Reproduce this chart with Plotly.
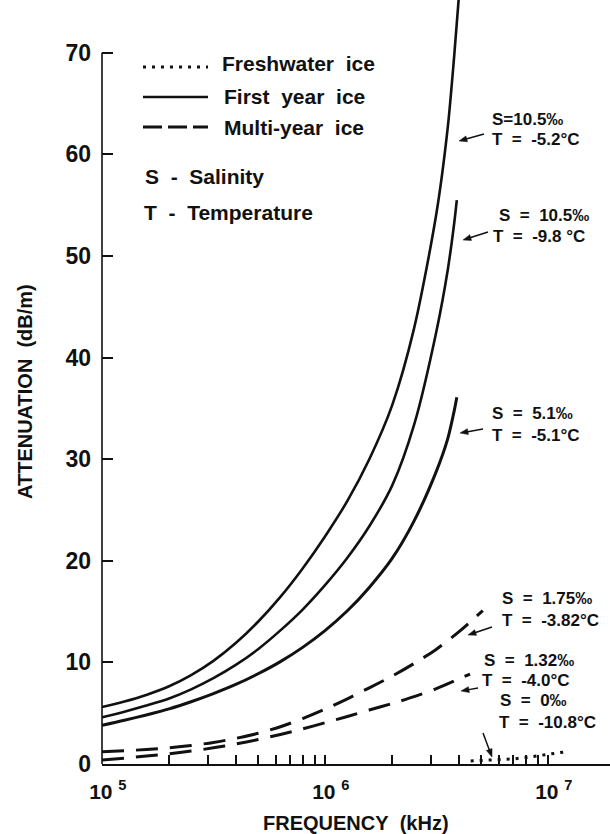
import math
import plotly.graph_objects as go

FONT = "Liberation Sans, Arial, Helvetica, sans-serif"
INK = "#111111"

# ---------------- data ----------------
# First year ice (solid)
freq_fy_a = [1e5, 1.26e5, 1.58e5, 2.0e5, 2.51e5, 3.16e5, 3.98e5, 5.01e5, 6.31e5, 7.94e5, 1e6,
             1.26e6, 1.58e6, 2.0e6, 2.51e6, 3.16e6, 3.55e6, 3.8e6, 4.0e6]
att_fy_a = [5.6, 6.15, 6.8, 7.65, 8.75, 10.15, 11.9, 14.0, 16.45, 19.25, 22.4,
            25.9, 30.0, 35.3, 42.9, 54.2, 62.6, 69.8, 76.0]                      # S=10.5, T=-5.2

freq_fy_b = [1e5, 1.26e5, 1.58e5, 2.0e5, 2.51e5, 3.16e5, 3.98e5, 5.01e5, 6.31e5, 7.94e5, 1e6,
             1.26e6, 1.58e6, 2.0e6, 2.51e6, 3.16e6, 3.55e6, 3.8e6, 3.9e6]
att_fy_b = [4.6, 5.15, 5.75, 6.45, 7.35, 8.45, 9.75, 11.3, 13.15, 15.2, 17.6,
            20.3, 23.4, 27.4, 33.4, 42.6, 48.6, 53.3, 55.5]                       # S=10.5, T=-9.8

freq_fy_c = [1e5, 1.26e5, 1.58e5, 2.0e5, 2.51e5, 3.16e5, 3.98e5, 5.01e5, 6.31e5, 7.94e5, 1e6,
             1.26e6, 1.58e6, 2.0e6, 2.51e6, 3.16e6, 3.55e6, 3.8e6, 3.9e6]
att_fy_c = [3.8, 4.3, 4.83, 5.43, 6.13, 6.93, 7.83, 8.88, 10.08, 11.48, 13.13,
            15.08, 17.38, 20.23, 23.93, 28.83, 32.0, 34.8, 36.1]                  # S=5.1, T=-5.1

# Multi-year ice (dashed)
freq_my_d = [1e5, 1.26e5, 1.58e5, 2.0e5, 2.51e5, 3.16e5, 3.98e5, 5.01e5, 6.31e5, 7.94e5, 1e6,
             1.26e6, 1.58e6, 2.0e6, 2.51e6, 3.16e6, 3.98e6, 5.1e6]
att_my_d = [1.2, 1.3, 1.43, 1.6, 1.82, 2.12, 2.52, 3.02, 3.67, 4.47, 5.4,
            6.42, 7.5, 8.65, 9.9, 11.3, 13.0, 15.1]                               # S=1.75, T=-3.82

freq_my_e = [1e5, 1.26e5, 1.58e5, 2.0e5, 2.51e5, 3.16e5, 3.98e5, 5.01e5, 6.31e5, 7.94e5, 1e6,
             1.26e6, 1.58e6, 2.0e6, 2.51e6, 3.16e6, 3.98e6, 4.47e6]
att_my_e = [0.4, 0.58, 0.78, 1.0, 1.27, 1.59, 1.97, 2.41, 2.91, 3.46, 4.06,
            4.68, 5.31, 5.95, 6.63, 7.41, 8.36, 8.85]                             # S=1.32, T=-4.0

# Freshwater ice (dotted)
freq_fw = [4.5e6, 5e6, 6e6, 7e6, 8e6, 9e6, 1e7, 1.1e7, 1.2e7]
att_fw = [0.3, 0.35, 0.42, 0.5, 0.65, 0.82, 0.95, 1.1, 1.2]                     # S=0, T=-10.8

y_ticks = [0, 10, 20, 30, 40, 50, 60, 70]
x_major = [1e5, 1e6, 1e7]
x_ticktext = ["\u00a0\u00a010\u00a0<sup>5</sup>", "\u00a0\u00a010\u00a0<sup>6</sup>", "\u00a0\u00a010\u00a0<sup>7</sup>"]
x_minor = [k * 10 ** e for e in (5, 6) for k in range(2, 10)]

NB = "\u00a0"
EQ = NB * 2 + "=" + NB * 2
labels = [
    ("S=10.5\u2030", "T" + EQ + "-5.2\u00b0C"),
    ("S" + EQ + "10.5\u2030", "T" + EQ + "-9.8" + NB + "\u00b0C"),
    ("S" + EQ + "5.1\u2030", "T" + EQ + "-5.1\u00b0C"),
    ("S" + EQ + "1.75\u2030", "T" + EQ + "-3.82\u00b0C"),
    ("S" + EQ + "1.32\u2030", "T" + EQ + "-4.0\u00b0C"),
    ("S" + EQ + "0\u2030", "T" + EQ + "-10.8\u00b0C"),
]

# ---------------- layout geometry ----------------
W, H = 610, 834
L, R, T, B = 102, 0, 0, 70
PW, PH = W - L - R, H - T - B


def px(x, y):
    """pixel position -> paper coords"""
    return (x - L) / PW, (H - B - y) / PH


fig = go.Figure()

solid = dict(color=INK, width=2.6, shape="spline", smoothing=0.8)
fig.add_trace(go.Scatter(x=freq_fy_a, y=att_fy_a, mode="lines", line=solid, showlegend=False))
fig.add_trace(go.Scatter(x=freq_fy_b, y=att_fy_b, mode="lines", line=solid, showlegend=False))
fig.add_trace(go.Scatter(x=freq_fy_c, y=att_fy_c, mode="lines", line=dict(solid, width=3), showlegend=False))
dashed = dict(color=INK, width=3, dash="22px,12px", shape="spline", smoothing=0.8)
fig.add_trace(go.Scatter(x=freq_my_d, y=att_my_d, mode="lines", line=dashed, showlegend=False))
fig.add_trace(go.Scatter(x=freq_my_e, y=att_my_e, mode="lines", line=dashed, showlegend=False))
fig.add_trace(go.Scatter(x=freq_fw, y=att_fw, mode="lines",
                         line=dict(color=INK, width=3, dash="3px,6px"), showlegend=False))

shapes = []
# y axis line up to 70 only
shapes.append(dict(type="line", xref="paper", yref="y", x0=0, x1=0, y0=0, y1=70,
                   line=dict(color=INK, width=1.6)))

annotations = []
bold = lambda s: dict(family=FONT, size=s, color=INK, weight="bold")

# manual legend
leg = [
    (67, dict(color=INK, width=3, dash="3px,6px"), "Freshwater" + NB * 2 + "ice", 220, 64),
    (97, dict(color=INK, width=2.6), "First" + NB * 2 + "year" + NB * 2 + "ice", 222, 96),
    (127, dict(color=INK, width=3, dash="19px,6px"), "Multi-year" + NB * 2 + "ice", 222, 127),
]
for ly, lstyle, text, tx, ty in leg:
    x0, y0 = px(143, ly)
    x1, _ = px(208, ly)
    shapes.append(dict(type="line", xref="paper", yref="paper", x0=x0, x1=x1, y0=y0, y1=y0, line=lstyle))
    ax_, ay_ = px(tx, ty)
    annotations.append(dict(text=text, xref="paper", yref="paper", x=ax_, y=ay_, xanchor="left",
                            yanchor="middle", showarrow=False, font=bold(21)))
for text, tx, ty in [("S" + NB * 2 + "-" + NB * 2 + "Salinity", 143, 176),
                     ("T" + NB * 2 + "-" + NB * 2 + "Temperature", 142, 212)]:
    ax_, ay_ = px(tx, ty)
    annotations.append(dict(text=text, xref="paper", yref="paper", x=ax_, y=ay_, xanchor="left",
                            yanchor="middle", showarrow=False, font=bold(21)))

# curve labels: (S left, S y, T left, T y)
label_pos = [(490, 119, 490, 139.5), (497, 216, 491, 237), (490, 413, 490, 435),
             (500, 598, 500, 620), (482, 660, 480, 680.5), (498, 700, 497, 722)]
for (s_txt, t_txt), (sx, sy, tx, ty) in zip(labels, label_pos):
    for txt, xx, yy in ((s_txt, sx, sy), (t_txt, tx, ty)):
        ax_, ay_ = px(xx, yy)
        annotations.append(dict(text=txt, xref="paper", yref="paper", x=ax_, y=ay_, xanchor="left",
                                yanchor="middle", showarrow=False, font=bold(17)))

# pointer arrows (tail -> tip, pixels), drawn as shapes
arrows = [((484, 134), (459, 141)), ((488, 232), (463, 240)), ((483, 429), (460, 433)),
          ((492, 627), (468, 635)), ((478, 688), (461, 691)), ((483, 733), (492, 757))]
for (tx, ty), (hx, hy) in arrows:
    dx, dy = hx - tx, hy - ty
    n = math.hypot(dx, dy)
    ux, uy = dx / n, dy / n
    hl, hw = 8.0, 3.0
    bx, by = hx - hl * ux, hy - hl * uy
    p0 = px(tx, ty)
    p1 = px(bx + 1.5 * ux, by + 1.5 * uy)
    shapes.append(dict(type="line", xref="paper", yref="paper", x0=p0[0], y0=p0[1], x1=p1[0], y1=p1[1],
                       line=dict(color=INK, width=1.5)))
    c1 = px(hx, hy)
    c2 = px(bx - hw * uy, by + hw * ux)
    c3 = px(bx + hw * uy, by - hw * ux)
    path = "M %.5f %.5f L %.5f %.5f L %.5f %.5f Z" % (c1[0], c1[1], c2[0], c2[1], c3[0], c3[1])
    shapes.append(dict(type="path", xref="paper", yref="paper", path=path,
                       fillcolor=INK, line=dict(color=INK, width=0.5)))

# axis titles
xt, yt = px(356, 823)
annotations.append(dict(text="FREQUENCY" + NB * 2 + "(kHz)", xref="paper", yref="paper", x=xt, y=yt,
                        xanchor="center", yanchor="middle", showarrow=False, font=bold(20)))
xt, yt = px(25, 392)
annotations.append(dict(text="ATTENUATION" + NB * 2 + "(dB/m)", xref="paper", yref="paper", x=xt, y=yt,
                        xanchor="center", yanchor="middle", showarrow=False, textangle=-90,
                        font=bold(20)))

fig.update_layout(
    width=W, height=H,
    margin=dict(l=L, r=R, t=T, b=B, pad=0),
    paper_bgcolor="white", plot_bgcolor="white",
    font=dict(family=FONT, color=INK),
    shapes=shapes, annotations=annotations,
    showlegend=False,
    xaxis=dict(type="log", range=[5, 5 + PW / 223.0], showgrid=False, zeroline=False,
               showline=True, linecolor=INK, linewidth=1.6,
               ticks="inside", ticklen=9, tickwidth=1.5, tickcolor=INK,
               tickmode="array", tickvals=x_major, ticktext=x_ticktext, ticklabelstandoff=8,
               tickfont=bold(21),
               minor=dict(tickmode="array", tickvals=x_minor, ticks="inside", ticklen=9,
                          tickwidth=1.5, tickcolor=INK, showgrid=False)),
    yaxis=dict(range=[0, PH / 10.16], showgrid=False, zeroline=False, showline=False,
               ticks="inside", ticklen=11, tickwidth=1.5, tickcolor=INK,
               tickvals=y_ticks, ticklabelstandoff=10, tickfont=bold(23)),
)

fig.write_html("out.html", post_script="document.body.style.margin='0px';",
               config={"displayModeBar": False})
